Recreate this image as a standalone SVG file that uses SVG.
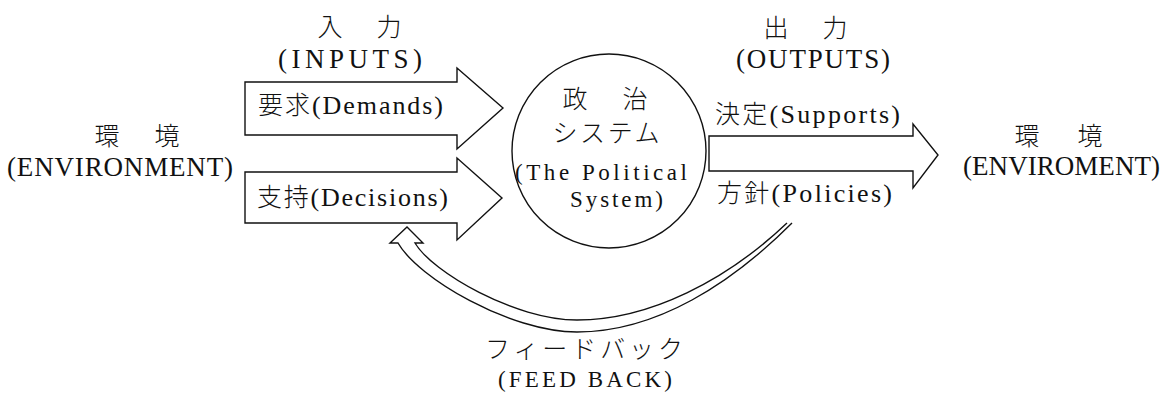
<svg xmlns="http://www.w3.org/2000/svg" width="1162" height="394" viewBox="0 0 1162 394">
<style>
.t{font-family:"Liberation Serif","Noto Sans CJK JP",serif;font-size:26px;fill:#111}
.c{font-size:27px}
.s{font-size:23px}
.k{font-family:"Noto Sans CJK JP",sans-serif;font-weight:300;font-size:25px}
.j{font-family:"Noto Sans CJK JP","Liberation Serif",sans-serif;font-size:25px;font-weight:300;fill:#111;text-anchor:middle}
.a{fill:#fff;stroke:#111;stroke-width:1.4;stroke-linejoin:miter}
</style>
<rect width="1162" height="394" fill="#fff"/>
<g id="env-left">
<text class="j" x="107" y="145">環</text>
<text class="j" x="167" y="145">境</text>
<text class="t c" x="7" y="176" textLength="226">(ENVIRONMENT)</text>
</g>
<g id="inputs-label">
<text class="j" x="330" y="36">入</text>
<text class="j" x="389" y="36">力</text>
<text class="t c" x="278" y="68" textLength="144">(INPUTS)</text>
</g>
<g id="outputs-label">
<text class="j" x="776" y="37">出</text>
<text class="j" x="835" y="37">力</text>
<text class="t c" x="736" y="68" textLength="154">(OUTPUTS)</text>
</g>
<g id="connectors">
<g id="arrow-demands">
<polygon class="a" points="245,82 457,82 457,68 503,108 457,149 457,135 245,135"/>
<text class="t" x="258" y="114" textLength="185"><tspan class="k">要求</tspan>(Demands)</text>
</g>
<g id="arrow-decisions">
<polygon class="a" points="245,172 457,172 457,158 502,198 457,240 457,223 245,223"/>
<text class="t" x="257" y="206" textLength="191"><tspan class="k">支持</tspan>(Decisions)</text>
</g>
<g id="arrow-outputs">
<polygon class="a" points="709,136 913,136 913,124 938,155 913,188 913,171 709,171"/>
<text class="t" x="715" y="123" textLength="185"><tspan class="k">決定</tspan>(Supports)</text>
<text class="t" x="717" y="202" textLength="175"><tspan class="k">方針</tspan>(Policies)</text>
</g>
<g id="arrow-feedback">
<path class="a" d="M787,223 C727,280 650,320 577,320 C515,320 432,272 415,243 L423,243 L407,227 L390,243 L398,243 C418,278 510,332 577,332 C657,332 732,283 792,223"/>
</g>
</g>
<g id="political-system">
<circle cx="609" cy="151" r="97" fill="#fff" stroke="#111" stroke-width="1.4"/>
<text class="j" x="575" y="108">政</text>
<text class="j" x="635" y="108">治</text>
<text class="j" x="606" y="142" textLength="107">システム</text>
<text class="t s" x="515" y="180" textLength="172">(The Political</text>
<text class="t s" x="570" y="207" textLength="93">System)</text>
</g>
<g id="env-right">
<text class="j" x="1027" y="145">環</text>
<text class="j" x="1090" y="145">境</text>
<text class="t c" x="963" y="175" textLength="197">(ENVIROMENT)</text>
</g>
<g id="feedback-label">
<text class="j" x="584" y="358" textLength="198">フィードバック</text>
<text class="t s" x="498" y="387" textLength="174">(FEED BACK)</text>
</g>
</svg>
